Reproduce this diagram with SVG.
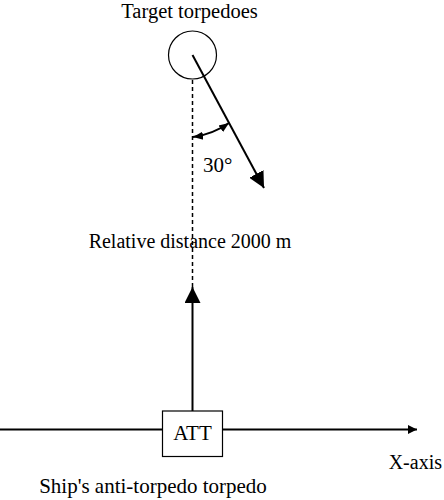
<svg xmlns="http://www.w3.org/2000/svg" width="444" height="500" viewBox="0 0 444 500">
<style>
text{font-family:"Liberation Serif","Times New Roman",serif;font-size:21px;fill:#000}
.ln{stroke:#000;stroke-width:2;fill:none}
</style>
<defs>
<marker id="ah" viewBox="0 0 10 10" refX="10" refY="5" markerWidth="9" markerHeight="9" markerUnits="userSpaceOnUse" orient="auto"><path d="M0,0 L10,5 L0,10 Z" fill="#000"/></marker>
<marker id="big" viewBox="0 0 10 10" refX="10" refY="5" markerWidth="16" markerHeight="16" markerUnits="userSpaceOnUse" orient="auto"><path d="M0,0 L10,5 L0,10 Z" fill="#000"/></marker>
<marker id="sm" viewBox="0 0 10 10" refX="10" refY="5" markerWidth="10" markerHeight="10" markerUnits="userSpaceOnUse" orient="auto-start-reverse"><path d="M0,1 L10,5 L0,9 Z" fill="#000"/></marker>
</defs>
<rect width="444" height="500" fill="#fff"/>
<g id="connectors">
<line class="ln" x1="0" y1="429.5" x2="417" y2="429.5" marker-end="url(#ah)"/>
<line x1="192.5" y1="80" x2="192.5" y2="289" stroke="#000" stroke-width="1.5" stroke-dasharray="4,3"/>
<line class="ln" x1="192.5" y1="411" x2="192.5" y2="287" marker-end="url(#big)"/>
<line class="ln" x1="192.5" y1="55" x2="264" y2="188" marker-end="url(#big)"/>
<path class="ln" stroke-width="1.5" d="M193,137 A82,82 0 0 0 229,123" marker-start="url(#sm)" marker-end="url(#sm)"/>
</g>
<g id="target">
<circle cx="192.5" cy="55" r="24" fill="none" stroke="#000" stroke-width="1.2"/>
<text x="189.5" y="18" text-anchor="middle" style="font-size:20.5px">Target torpedoes</text>
</g>
<g id="att">
<rect x="162.5" y="411" width="60" height="45.5" fill="#fff" stroke="#000" stroke-width="1.2"/>
<text x="192.5" y="440" text-anchor="middle">ATT</text>
</g>
<text x="203" y="172">30°</text>
<text x="190" y="248" text-anchor="middle" style="font-size:20px">Relative distance 2000 m</text>
<text x="442" y="469" text-anchor="end" style="font-size:20px">X-axis</text>
<text x="153" y="493" text-anchor="middle">Ship's anti-torpedo torpedo</text>
</svg>
